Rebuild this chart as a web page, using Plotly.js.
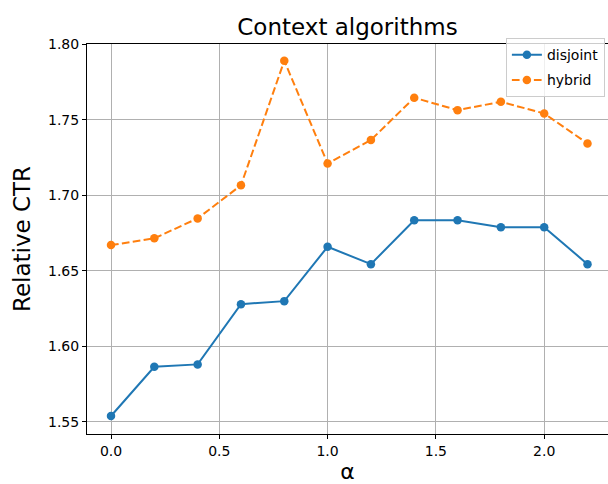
<!DOCTYPE html>
<html>
<head>
<meta charset="utf-8">
<script src="https://cdn.plot.ly/plotly-3.0.1.min.js"></script>
<style>html,body{margin:0;padding:0;overflow:hidden;background:#fff}</style>
</head>
<body>
<div id="chart" style="width:608px;height:484px"></div>
<script>
const alphas = [0.0, 0.2, 0.4, 0.6, 0.8, 1.0, 1.2, 1.4, 1.6, 1.8, 2.0, 2.2];
const disjoint = [1.5538, 1.5864, 1.5880, 1.6279, 1.6299, 1.6659, 1.6544, 1.6834, 1.6834, 1.6789, 1.6789, 1.6544];
const hybrid = [1.6670, 1.6715, 1.6847, 1.7066, 1.7891, 1.7211, 1.7366, 1.7646, 1.7564, 1.7619, 1.7542, 1.7343];
const xTicks = [0.0, 0.5, 1.0, 1.5, 2.0];
const xTickText = ['0.0', '0.5', '1.0', '1.5', '2.0'];
const yTicks = [1.55, 1.60, 1.65, 1.70, 1.75, 1.80];
const yTickText = ['1.55', '1.60', '1.65', '1.70', '1.75', '1.80'];

const font = 'DejaVu Sans, sans-serif';
const traces = [
  {x: alphas, y: disjoint, name: 'disjoint', type: 'scatter', mode: 'lines+markers',
   legendgroup: 'a',
   line: {color: '#1f77b4', width: 2}, marker: {color: '#1f77b4', size: 8.5}},
  {x: alphas, y: hybrid, name: 'hybrid', type: 'scatter', mode: 'lines+markers',
   legendgroup: 'b',
   line: {color: '#ff7f0e', width: 2, dash: '7.7px,3.3px'}, marker: {color: '#ff7f0e', size: 8.5}}
];
const axisCommon = {
  showline: true, linecolor: '#000', linewidth: 1, mirror: true,
  showgrid: true, gridcolor: '#b0b0b0', gridwidth: 1,
  ticks: 'outside', ticklen: 4, tickcolor: '#000', tickwidth: 1,
  zeroline: false,
  tickfont: {family: font, size: 14, color: '#000'}
};
const layout = {
  width: 608, height: 484,
  margin: {l: 87, r: 0, t: 44, b: 50, pad: 0},
  paper_bgcolor: '#fff', plot_bgcolor: '#fff',
  font: {family: font, color: '#000'},
  title: {text: 'Context algorithms', font: {family: font, size: 23, color: '#000'},
          x: 0.5, xref: 'paper', xanchor: 'center', y: 1, yref: 'paper', yanchor: 'bottom', pad: {b: 9}},
  xaxis: Object.assign({}, axisCommon, {
    range: [-0.1108, 2.2946], tickvals: xTicks, ticktext: xTickText,
    title: {text: 'α', font: {family: font, size: 22, color: '#000'}, standoff: 10}
  }),
  yaxis: Object.assign({}, axisCommon, {
    range: [1.5419, 1.8002], tickvals: yTicks, ticktext: yTickText,
    title: {text: 'Relative CTR', font: {family: font, size: 23, color: '#000'}, standoff: 10}
  }),
  showlegend: true,
  legend: {x: 0.804, xanchor: 'left', y: 1.015, yanchor: 'top', xref: 'paper', yref: 'paper',
           bgcolor: 'rgba(255,255,255,0.8)', bordercolor: '#cccccc', borderwidth: 1,
           font: {family: font, size: 14, color: '#000'}, traceorder: 'grouped', tracegroupgap: 4}
};
Plotly.newPlot('chart', traces, layout, {displayModeBar: false, staticPlot: true});
</script>
</body>
</html>
